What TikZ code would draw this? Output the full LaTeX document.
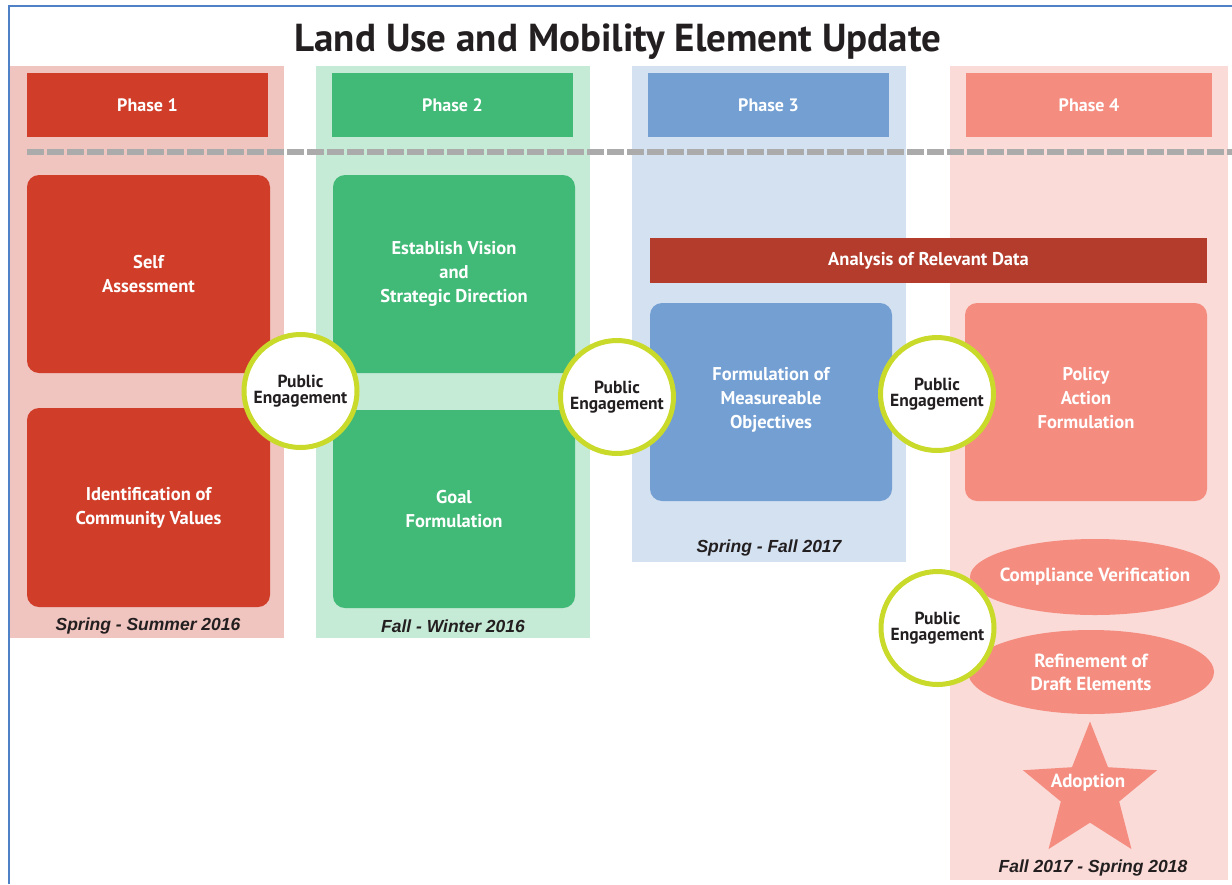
\documentclass[tikz,border=0pt]{standalone}
\usepackage{fontspec}
\setmainfont{PT Sans}
\newfontfamily\datefont{Liberation Sans}
\usetikzlibrary{shapes.geometric}

\definecolor{redA}{HTML}{D03E2A}
\definecolor{redL}{HTML}{F0C4BF}
\definecolor{greenA}{HTML}{41BA77}
\definecolor{greenL}{HTML}{C5EAD5}
\definecolor{blueA}{HTML}{739FD3}
\definecolor{blueL}{HTML}{D4E1F1}
\definecolor{pinkA}{HTML}{F48C80}
\definecolor{pinkL}{HTML}{FADBD7}
\definecolor{dataRed}{HTML}{B33C2C}
\definecolor{ringGreen}{HTML}{C9DA2B}
\definecolor{dashGray}{HTML}{ABABAB}
\definecolor{frameBlue}{HTML}{4F81C7}
\definecolor{inkGray}{HTML}{231F20}

\begin{document}
\begin{tikzpicture}[x=1pt, y=-1pt,
   phasebox/.style={rectangle, inner sep=0, minimum width=241, minimum height=64,
      text=white, font=\bfseries\fontsize{18}{22}\selectfont},
   stepbox/.style={rectangle, rounded corners=12, inner sep=0, minimum width=242,
      minimum height=198, text=white, align=center, font=\bfseries\fontsize{18.5}{24}\selectfont},
   oval/.style={ellipse, inner xsep=-30pt, inner ysep=0, fill=pinkA, text=white, align=center,
      font=\bfseries\fontsize{19}{23}\selectfont},
   engage/.style={circle, inner sep=0, minimum size=113, fill=white, draw=ringGreen,
      line width=5, text=inkGray, align=center, font=\bfseries\fontsize{17.5}{16}\selectfont},
   datetext/.style={text=inkGray, font=\datefont\bfseries\itshape\fontsize{17.5}{18}\selectfont}
   ]
   \useasboundingbox (0,0) rectangle (1232,884);
   
   % frame and title
   \draw[frameBlue, line width=1.6] (9,884) -- (9,6) -- (1232,6);
   \node[anchor=base, text=inkGray, font=\bfseries\fontsize{39}{42}\selectfont] (title) at (618,51) {Land Use and Mobility Element Update};
   
   % phase columns
   \fill[redL] (10,66) rectangle (284,638);
   \fill[greenL] (316,66) rectangle (590,638);
   \fill[blueL] (632,66) rectangle (906,562);
   \fill[pinkL] (950,66) rectangle (1228,880);
   
   \node[phasebox, fill=redA] (ph1) at (147.5,105) {Phase 1};
   \node[phasebox, fill=greenA] (ph2) at (452.5,105) {Phase 2};
   \node[phasebox, fill=blueA] (ph3) at (768.5,105) {Phase 3};
   \node[phasebox, fill=pinkA, minimum width=246] (ph4) at (1089,105) {Phase 4};
   
   \draw[dashGray, line width=6, dash pattern=on 17pt off 3pt] (27,152) -- (1232,152);
   
   % phase 1
   \node[stepbox, fill=redA, minimum width=243] (self) at (148.5,274) {Self\\Assessment};
   \node[stepbox, fill=redA, minimum width=243, minimum height=199] (values) at (148.5,507.5) {Identification of\\Community Values};
   \node[datetext] (date1) at (148,626) {Spring - Summer 2016};
   
   % phase 2
   \node[stepbox, fill=greenA] (vision) at (454,274) {Establish Vision\\and\\Strategic Direction};
   \node[stepbox, fill=greenA] (goal) at (454,509) {Goal\\Formulation};
   \node[datetext] (date2) at (453,626) {Fall - Winter 2016};
   
   % phase 3
   \node[rectangle, inner sep=0, minimum width=557, minimum height=45, fill=dataRed, text=white,
      font=\bfseries\fontsize{18.5}{20}\selectfont] (data) at (928.5,260.5) {Analysis of Relevant Data};
   \node[stepbox, fill=blueA, text depth=8pt] (objectives) at (771,402) {Formulation of\\Measureable\\Objectives};
   \node[datetext] (date3) at (769,548) {Spring - Fall 2017};
   
   % phase 4
   \node[stepbox, fill=pinkA, text depth=8pt] (policy) at (1086,402) {Policy\\Action\\Formulation};
   \node[oval, minimum width=250, minimum height=76] (comply) at (1095,577) {Compliance Verification};
   \node[oval, minimum width=246, minimum height=84] (refine) at (1091,672) {Refinement of\\Draft Elements};
   \node[star, star points=5, star point ratio=2.3, minimum size=141, inner sep=0, fill=pinkA] (adopt) at (1090,792) {};
   \node[text=white, font=\bfseries\fontsize{19}{20}\selectfont] (adoptText) at (1088,783) {Adoption};
   \node[datetext] (date4) at (1093,868) {Fall 2017 - Spring 2018};
   
   % public engagement
   \node[engage] (pe1) at (300.5,391) {Public\\Engagement};
   \node[engage] (pe2) at (617,397) {Public\\Engagement};
   \node[engage] (pe3) at (937,394) {Public\\Engagement};
   \node[engage] (pe4) at (937.5,628) {Public\\Engagement};
   
\end{tikzpicture}
\end{document}
